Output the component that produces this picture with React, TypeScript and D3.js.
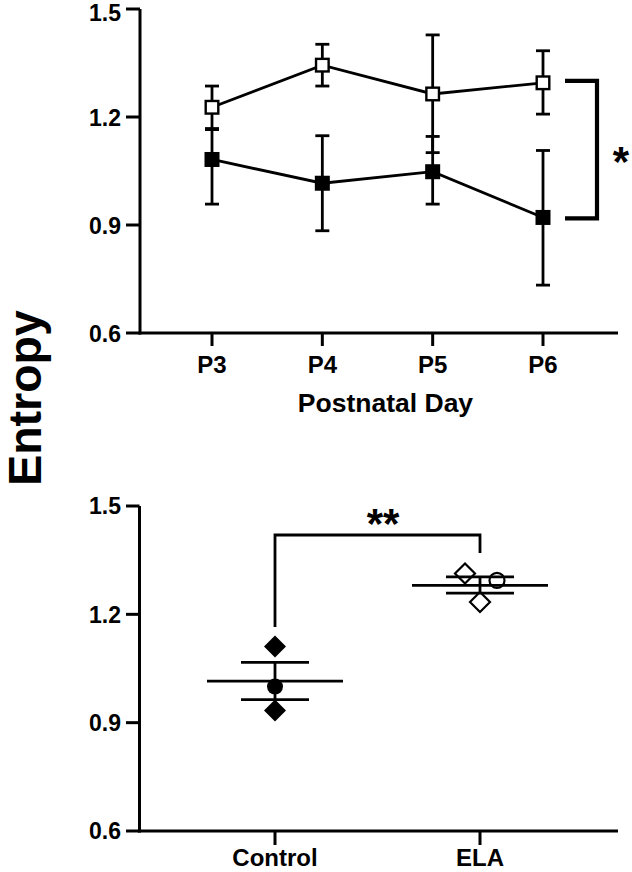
import React from "react";
import * as d3 from "d3";

const days = ["P3", "P4", "P5", "P6"];
const elaMean = [1.227, 1.344, 1.264, 1.295];
const elaLo = [1.168, 1.286, 1.101, 1.208];
const elaHi = [1.286, 1.402, 1.428, 1.384];
const ctrlMean = [1.082, 1.016, 1.048, 0.921];
const ctrlLo = [0.958, 0.884, 0.958, 0.733];
const ctrlHi = [1.165, 1.148, 1.146, 1.107];

const yTicks = [0.6, 0.9, 1.2, 1.5];

const groups = ["Control", "ELA"];
const ctrlPoints = [1.111, 1.0, 0.934];
const ctrlShapes = ["diamond", "circle", "diamond"];
const elaPoints = [1.313, 1.294, 1.234];
const elaShapes = ["diamond", "circle", "diamond"];
const groupMean = [1.015, 1.28];
const groupSemLo = [0.964, 1.259];
const groupSemHi = [1.067, 1.304];

// layout-only jitter (px) for the ELA points
const elaJitter = [-15, 17, 0];
const ctrlJitter = [0, 0, 0];

const FONT = "'Liberation Sans', Arial, sans-serif";

export default function App() {
  const yTop = d3.scaleLinear().domain([0.6, 1.5]).range([333, 9]);
  const xTop = d3.scalePoint<string>().domain(days).range([212, 543]);
  const yBot = d3.scaleLinear().domain([0.6, 1.5]).range([831, 506]);
  const xBot = d3.scalePoint<string>().domain(groups).range([275, 480]);

  const line = d3
    .line<number>()
    .x((_, i) => xTop(days[i])!)
    .y((d) => yTop(d));

  const sq = 15;
  const cap = 7;
  const sw = 2.8;

  const symbol = (shape: string, x: number, y: number, filled: boolean, key: string) => {
    if (shape === "circle") {
      return (
        <circle key={key} cx={x} cy={y} r={filled ? 8 : 7.5}
          fill={filled ? "#000" : "#fff"} stroke="#000" strokeWidth={filled ? 0 : 2.2} />
      );
    }
    const r = filled ? 11 : 10;
    const p = `M${x},${y - r}L${x + r},${y}L${x},${y + r}L${x - r},${y}Z`;
    return (
      <path key={key} d={p} fill={filled ? "#000" : "#fff"} stroke="#000"
        strokeWidth={filled ? 0 : 2.2} strokeLinejoin="miter" />
    );
  };

  return (
    <svg width={632} height={872} style={{ position: "absolute", left: 0, top: 0, background: "#fff" }}
      fontFamily={FONT}>
      <rect width={632} height={872} fill="#fff" />
      {/* Y title */}
      <text transform="translate(41,398) rotate(-90)" textAnchor="middle" fontSize={46.5}
        fontWeight="bold" fill="#000">Entropy</text>

      {/* ===== Top panel ===== */}
      <g stroke="#000" strokeWidth={3} fill="none">
        <line x1={140} x2={140} y1={yTop(1.5)} y2={yTop(0.6) + 1.5} />
        <line x1={138.5} x2={618} y1={yTop(0.6)} y2={yTop(0.6)} />
        {yTicks.map((t) => (
          <line key={t} x1={126} x2={140} y1={yTop(t)} y2={yTop(t)} />
        ))}
        {days.map((d) => (
          <line key={d} x1={xTop(d)} x2={xTop(d)} y1={yTop(0.6)} y2={yTop(0.6) + 13} />
        ))}
      </g>
      {yTicks.map((t) => (
        <text key={t} x={121} y={Math.max(yTop(t) + 8.5, 20.5)} textAnchor="end" fontSize={23} fontWeight="bold">
          {t.toFixed(1)}
        </text>
      ))}
      {days.map((d) => (
        <text key={d} x={xTop(d)} y={373} textAnchor="middle" fontSize={24} fontWeight="bold">{d}</text>
      ))}
      <text x={385.5} y={412} textAnchor="middle" fontSize={26.5} fontWeight="bold">Postnatal Day</text>

      {/* error bars */}
      <g stroke="#000" strokeWidth={sw}>
        {days.map((d, i) => {
          const x = xTop(d)!;
          return (
            <g key={d}>
              <line x1={x} x2={x} y1={yTop(ctrlLo[i])} y2={yTop(ctrlHi[i])} />
              <line x1={x - cap} x2={x + cap} y1={yTop(ctrlLo[i])} y2={yTop(ctrlLo[i])} />
              <line x1={x - cap} x2={x + cap} y1={yTop(ctrlHi[i])} y2={yTop(ctrlHi[i])} />
              <line x1={x} x2={x} y1={yTop(elaLo[i])} y2={yTop(elaHi[i])} />
              <line x1={x - cap} x2={x + cap} y1={yTop(elaLo[i])} y2={yTop(elaLo[i])} />
              <line x1={x - cap} x2={x + cap} y1={yTop(elaHi[i])} y2={yTop(elaHi[i])} />
            </g>
          );
        })}
      </g>
      <path d={line(ctrlMean)!} fill="none" stroke="#000" strokeWidth={sw} />
      <path d={line(elaMean)!} fill="none" stroke="#000" strokeWidth={sw} />
      {days.map((d, i) => (
        <rect key={"c" + d} x={xTop(d)! - sq / 2} y={yTop(ctrlMean[i]) - sq / 2} width={sq} height={sq} fill="#000" />
      ))}
      {days.map((d, i) => (
        <rect key={"e" + d} x={xTop(d)! - (sq - 2.4) / 2} y={yTop(elaMean[i]) - (sq - 2.4) / 2}
          width={sq - 2.4} height={sq - 2.4} fill="#fff" stroke="#000" strokeWidth={2.4} />
      ))}
      {/* bracket */}
      <path d={`M565,${yTop(elaMean[3]) - 2}H597V${yTop(ctrlMean[3]) + 1}H565`} fill="none" stroke="#000"
        strokeWidth={4.2} />
      <text x={621} y={176} textAnchor="middle" fontSize={42} fontWeight="bold">*</text>

      {/* ===== Bottom panel ===== */}
      <g stroke="#000" strokeWidth={3} fill="none">
        <line x1={139.5} x2={139.5} y1={yBot(1.5)} y2={yBot(0.6) + 1.5} />
        <line x1={138} x2={618} y1={yBot(0.6)} y2={yBot(0.6)} />
        {yTicks.map((t) => (
          <line key={t} x1={126} x2={139.5} y1={yBot(t)} y2={yBot(t)} />
        ))}
        {groups.map((g) => (
          <line key={g} x1={xBot(g)} x2={xBot(g)} y1={yBot(0.6)} y2={yBot(0.6) + 14} />
        ))}
      </g>
      {yTicks.map((t) => (
        <text key={t} x={121} y={yBot(t) + 8.2} textAnchor="end" fontSize={23} fontWeight="bold">
          {t.toFixed(1)}
        </text>
      ))}
      {groups.map((g) => (
        <text key={g} x={xBot(g)} y={866} textAnchor="middle" fontSize={24} fontWeight="bold">{g}</text>
      ))}

      {/* points */}
      {ctrlPoints.map((v, i) => symbol(ctrlShapes[i], xBot("Control")! + ctrlJitter[i], yBot(v), true, "cp" + i))}
      {elaPoints.map((v, i) => symbol(elaShapes[i], xBot("ELA")! + elaJitter[i], yBot(v), false, "ep" + i))}

      {/* mean & sem */}
      <g stroke="#000" strokeWidth={sw}>
        {groups.map((g, i) => {
          const x = xBot(g)!;
          return (
            <g key={g}>
              <line x1={x - 68} x2={x + 68} y1={yBot(groupMean[i])} y2={yBot(groupMean[i])} />
              <line x1={x - 34} x2={x + 34} y1={yBot(groupSemLo[i])} y2={yBot(groupSemLo[i])} />
              <line x1={x - 34} x2={x + 34} y1={yBot(groupSemHi[i])} y2={yBot(groupSemHi[i])} />
              <line x1={x} x2={x} y1={yBot(groupSemLo[i])} y2={yBot(groupSemHi[i])} />
            </g>
          );
        })}
      </g>
      {/* significance bracket */}
      <path d={`M${xBot("Control")},627V535H${xBot("ELA")}V553`} fill="none" stroke="#000" strokeWidth={sw} />
      <text x={383} y={538} textAnchor="middle" fontSize={42} fontWeight="bold">**</text>
    </svg>
  );
}
